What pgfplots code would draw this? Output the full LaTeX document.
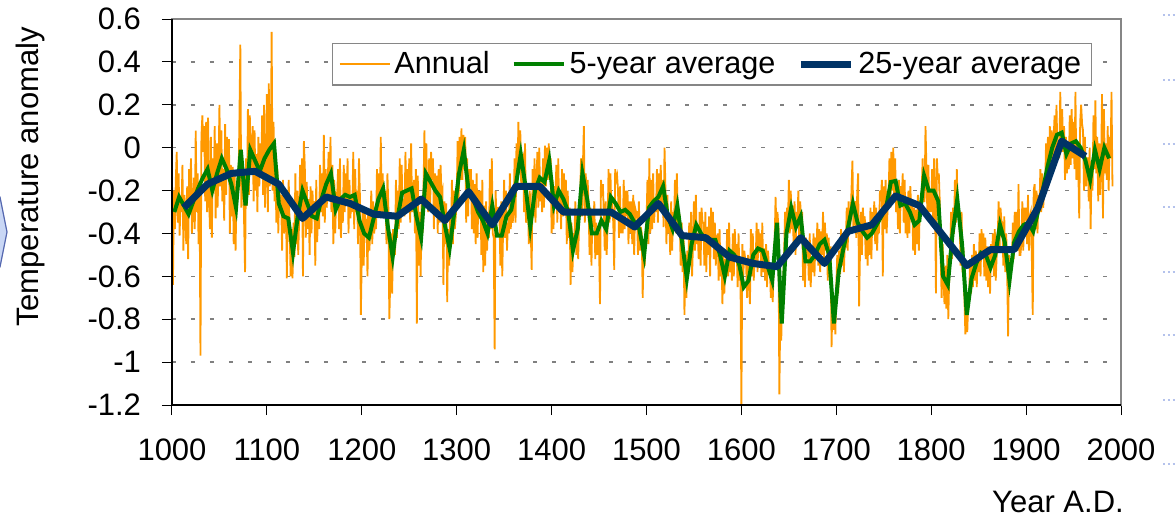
\documentclass[border=0pt]{standalone}
\usepackage{pgfplots}
\pgfplotsset{compat=1.18}
\usepackage{fontspec}
\setmainfont{Liberation Sans}

\definecolor{annualorange}{HTML}{FF9900}
\definecolor{fivegreen}{HTML}{008000}
\definecolor{navyline}{HTML}{003366}
\definecolor{framegray}{HTML}{868686}
\definecolor{gridgray}{HTML}{808080}
\definecolor{slideblue}{HTML}{C9D7F5}
\definecolor{slideedge}{HTML}{5568B0}
\definecolor{slidedot}{HTML}{B4C2EC}

\begin{document}
\begin{tikzpicture}
\useasboundingbox (-86bp,-55.5bp) rectangle (501.5bp,202.5bp);
\begin{axis}[
  width=474.5bp, height=193bp, scale only axis,
  xmin=1000, xmax=2000, ymin=-1.2, ymax=0.6,
  clip mode=individual,
  xtick={1000,1100,1200,1300,1400,1500,1600,1700,1800,1900,2000},
  xticklabels={1000,1100,1200,1300,1400,1500,1600,1700,1800,1900,2000},
  ytick={-1.2,-1,-0.8,-0.6,-0.4,-0.2,0,0.2,0.4,0.6},
  yticklabels={-1.2,-1,-0.8,-0.6,-0.4,-0.2,0,0.2,0.4,0.6},
  xtick pos=bottom, ytick pos=left,
  tick align=outside, major tick length=5bp,
  tick style={black, line width=0.5bp},
  ticklabel style={font=\fontsize{15.5bp}{18bp}\selectfont},
  xticklabel style={yshift=-8.5bp},
  yticklabel style={xshift=-7bp},
  ymajorgrids,
  major grid style={gridgray, line width=0.75bp, dash pattern=on 2.2bp off 7.3bp},
  axis line style={framegray, line width=0.8bp},
  xlabel={Year A.D.},
  ylabel={Temperature anomaly},
  every axis x label/.style={at={(axis description cs:0.9336,-0.2513)}, anchor=center, font=\fontsize{15.5bp}{18bp}\selectfont},
  every axis y label/.style={at={(axis description cs:-0.1496,0.5907)}, anchor=center, rotate=90, font=\fontsize{15.5bp}{18bp}\selectfont},
  legend columns=3,
  legend style={at={(0.9694,0.9378)}, anchor=north east, draw=framegray, line width=0.7bp, fill=white,
    font=\fontsize{15.3bp}{18bp}\selectfont, inner xsep=3bp, inner ysep=2bp,
    /tikz/every even column/.append style={column sep=9bp}},
  legend image code/.code={\draw[#1] (0bp,0bp) -- (25bp,0bp);},
]
% annual values
\addplot[annualorange, line width=0.9bp] coordinates {
(1000,-0.13)(1001,-0.64)(1002,-0.20)(1003,-0.38)(1004,-0.15)(1005,-0.02)(1006,-0.35)(1007,-0.12)(1008,-0.41)(1009,-0.25)
(1010,-0.30)(1011,-0.08)(1012,-0.48)(1013,-0.22)(1014,-0.27)(1015,-0.45)(1016,-0.18)(1017,-0.52)(1018,-0.10)(1019,-0.30)
(1020,-0.05)(1021,-0.40)(1022,-0.28)(1023,-0.14)(1024,-0.38)(1025,0.08)(1026,-0.30)(1027,-0.12)(1028,-0.45)(1029,-0.16)
(1030,-0.97)(1031,0.05)(1032,0.15)(1033,-0.02)(1034,0.10)(1035,-0.25)(1036,0.12)(1037,-0.30)(1038,0.14)(1039,-0.21)
(1040,-0.38)(1041,0.05)(1042,-0.42)(1043,-0.05)(1044,-0.20)(1045,0.10)(1046,-0.33)(1047,0.02)(1048,-0.28)(1049,-0.11)
(1050,0.20)(1051,-0.18)(1052,0.08)(1053,-0.25)(1054,-0.10)(1055,-0.34)(1056,0.11)(1057,-0.22)(1058,0.05)(1059,-0.10)
(1060,0.04)(1061,-0.40)(1062,-0.08)(1063,-0.32)(1064,-0.09)(1065,-0.45)(1066,-0.12)(1067,-0.48)(1068,-0.20)(1069,-0.15)
(1070,-0.20)(1071,0.12)(1072,0.48)(1073,-0.28)(1074,-0.17)(1075,-0.10)(1076,-0.35)(1077,-0.58)(1078,-0.05)(1079,-0.27)
(1080,0.18)(1081,-0.22)(1082,0.15)(1083,-0.12)(1084,-0.04)(1085,0.10)(1086,-0.25)(1087,0.08)(1088,-0.20)(1089,-0.03)
(1090,-0.30)(1091,0.05)(1092,-0.18)(1093,0.02)(1094,-0.14)(1095,0.15)(1096,-0.22)(1097,0.20)(1098,-0.28)(1099,-0.10)
(1100,0.25)(1101,-0.30)(1102,0.30)(1103,-0.18)(1104,-0.12)(1105,0.54)(1106,-0.20)(1107,0.12)(1108,-0.25)(1109,-0.11)
(1110,-0.35)(1111,-0.10)(1112,-0.40)(1113,-0.18)(1114,-0.27)(1115,-0.22)(1116,-0.48)(1117,-0.15)(1118,-0.40)(1119,-0.35)
(1120,-0.20)(1121,-0.61)(1122,-0.30)(1123,-0.15)(1124,-0.39)(1125,-0.60)(1126,-0.38)(1127,-0.61)(1128,-0.35)(1129,-0.51)
(1130,-0.12)(1131,-0.45)(1132,-0.20)(1133,-0.50)(1134,-0.33)(1135,-0.08)(1136,-0.30)(1137,-0.05)(1138,-0.60)(1139,0.03)
(1140,-0.10)(1141,-0.42)(1142,-0.16)(1143,-0.38)(1144,-0.24)(1145,-0.50)(1146,-0.18)(1147,-0.40)(1148,-0.20)(1149,-0.32)
(1150,-0.25)(1151,-0.55)(1152,-0.15)(1153,-0.44)(1154,-0.26)(1155,-0.38)(1156,-0.08)(1157,-0.30)(1158,-0.12)(1159,-0.32)
(1160,0.06)(1161,-0.35)(1162,-0.10)(1163,-0.28)(1164,-0.18)(1165,-0.02)(1166,-0.25)(1167,0.05)(1168,-0.30)(1169,-0.08)
(1170,-0.45)(1171,-0.15)(1172,-0.40)(1173,-0.22)(1174,-0.23)(1175,-0.10)(1176,-0.38)(1177,-0.05)(1178,-0.42)(1179,-0.25)
(1180,-0.35)(1181,-0.08)(1182,-0.30)(1183,-0.12)(1184,-0.25)(1185,-0.05)(1186,-0.40)(1187,-0.15)(1188,-0.33)(1189,-0.22)
(1190,-0.30)(1191,-0.02)(1192,-0.38)(1193,-0.10)(1194,-0.30)(1195,-0.20)(1196,-0.45)(1197,-0.05)(1198,-0.22)(1199,-0.78)
(1200,-0.50)(1201,-0.28)(1202,-0.55)(1203,-0.30)(1204,-0.37)(1205,-0.35)(1206,-0.60)(1207,-0.30)(1208,-0.48)(1209,-0.37)
(1210,-0.20)(1211,-0.45)(1212,-0.25)(1213,-0.40)(1214,-0.35)(1215,-0.38)(1216,-0.10)(1217,-0.30)(1218,-0.12)(1219,-0.30)
(1220,0.05)(1221,-0.32)(1222,-0.12)(1223,-0.30)(1224,-0.26)(1225,-0.20)(1226,-0.45)(1227,-0.12)(1228,-0.28)(1229,-0.80)
(1230,-0.62)(1231,-0.40)(1232,-0.68)(1233,-0.38)(1234,-0.47)(1235,-0.50)(1236,-0.15)(1237,-0.42)(1238,-0.20)(1239,-0.38)
(1240,-0.05)(1241,-0.35)(1242,-0.08)(1243,-0.30)(1244,-0.27)(1245,-0.32)(1246,-0.02)(1247,-0.28)(1248,-0.10)(1249,-0.28)
(1250,-0.05)(1251,-0.35)(1252,0.02)(1253,-0.30)(1254,-0.27)(1255,-0.15)(1256,-0.40)(1257,-0.10)(1258,-0.82)(1259,-0.13)
(1260,-0.55)(1261,-0.30)(1262,-0.60)(1263,-0.25)(1264,-0.40)(1265,-0.20)(1266,0.08)(1267,-0.25)(1268,0.02)(1269,-0.25)
(1270,-0.30)(1271,-0.05)(1272,-0.28)(1273,-0.02)(1274,-0.15)(1275,-0.05)(1276,-0.38)(1277,-0.12)(1278,-0.32)(1279,-0.13)
(1280,-0.40)(1281,-0.10)(1282,-0.35)(1283,-0.08)(1284,-0.22)(1285,-0.20)(1286,-0.64)(1287,-0.25)(1288,-0.45)(1289,-0.26)
(1290,-0.72)(1291,-0.38)(1292,-0.55)(1293,-0.30)(1294,-0.40)(1295,-0.15)(1296,-0.45)(1297,-0.20)(1298,-0.38)(1299,-0.32)
(1300,-0.25)(1301,0.03)(1302,-0.28)(1303,0.05)(1304,-0.15)(1305,0.09)(1306,-0.15)(1307,0.06)(1308,-0.10)(1309,0.05)
(1310,-0.35)(1311,-0.05)(1312,-0.32)(1313,-0.10)(1314,-0.18)(1315,-0.10)(1316,-0.38)(1317,-0.15)(1318,-0.40)(1319,-0.17)
(1320,-0.45)(1321,-0.12)(1322,-0.42)(1323,-0.20)(1324,-0.31)(1325,-0.20)(1326,-0.50)(1327,-0.15)(1328,-0.58)(1329,-0.27)
(1330,-0.55)(1331,-0.25)(1332,-0.48)(1333,-0.30)(1334,-0.42)(1335,-0.10)(1336,-0.38)(1337,-0.05)(1338,-0.40)(1339,-0.42)
(1340,-0.94)(1341,-0.20)(1342,-0.35)(1343,-0.28)(1344,-0.28)(1345,-0.30)(1346,-0.55)(1347,-0.25)(1348,-0.60)(1349,-0.35)
(1350,-0.15)(1351,-0.42)(1352,-0.20)(1353,-0.48)(1354,-0.35)(1355,-0.40)(1356,-0.12)(1357,-0.38)(1358,-0.20)(1359,-0.35)
(1360,-0.30)(1361,-0.05)(1362,-0.35)(1363,0.02)(1364,-0.17)(1365,0.12)(1366,-0.10)(1367,0.08)(1368,-0.18)(1369,-0.07)
(1370,-0.05)(1371,-0.30)(1372,0.02)(1373,-0.35)(1374,-0.22)(1375,-0.25)(1376,-0.45)(1377,-0.20)(1378,-0.38)(1379,-0.57)
(1380,-0.10)(1381,-0.32)(1382,-0.05)(1383,-0.35)(1384,-0.18)(1385,-0.02)(1386,-0.28)(1387,0.00)(1388,-0.25)(1389,-0.15)
(1390,-0.30)(1391,-0.05)(1392,-0.28)(1393,0.01)(1394,-0.18)(1395,0.00)(1396,-0.15)(1397,0.02)(1398,-0.12)(1399,-0.05)
(1400,-0.40)(1401,-0.15)(1402,-0.38)(1403,-0.18)(1404,-0.24)(1405,-0.08)(1406,-0.35)(1407,-0.05)(1408,-0.30)(1409,-0.22)
(1410,-0.38)(1411,-0.10)(1412,-0.32)(1413,-0.12)(1414,-0.28)(1415,-0.15)(1416,-0.45)(1417,-0.20)(1418,-0.42)(1419,-0.28)
(1420,-0.64)(1421,-0.35)(1422,-0.58)(1423,-0.40)(1424,-0.43)(1425,-0.25)(1426,-0.50)(1427,-0.30)(1428,-0.52)(1429,-0.33)
(1430,-0.25)(1431,-0.05)(1432,-0.32)(1433,-0.08)(1434,0.10)(1435,-0.35)(1436,-0.12)(1437,-0.30)(1438,-0.15)(1439,-0.28)
(1440,-0.50)(1441,-0.28)(1442,-0.55)(1443,-0.30)(1444,-0.37)(1445,-0.25)(1446,-0.52)(1447,-0.35)(1448,-0.50)(1449,-0.38)
(1450,-0.45)(1451,-0.73)(1452,-0.15)(1453,-0.20)(1454,-0.17)(1455,-0.30)(1456,-0.48)(1457,-0.25)(1458,-0.50)(1459,-0.37)
(1460,-0.10)(1461,-0.35)(1462,-0.12)(1463,-0.30)(1464,-0.28)(1465,-0.35)(1466,-0.57)(1467,-0.10)(1468,-0.15)(1469,-0.13)
(1470,-0.20)(1471,-0.42)(1472,-0.18)(1473,-0.40)(1474,-0.30)(1475,-0.40)(1476,-0.15)(1477,-0.38)(1478,-0.20)(1479,-0.32)
(1480,-0.20)(1481,-0.45)(1482,-0.25)(1483,-0.40)(1484,-0.25)(1485,-0.45)(1486,-0.22)(1487,-0.50)(1488,-0.28)(1489,-0.30)
(1490,-0.30)(1491,-0.50)(1492,-0.25)(1493,-0.48)(1494,-0.37)(1495,-0.40)(1496,-0.70)(1497,-0.45)(1498,-0.55)(1499,-0.40)
(1500,-0.35)(1501,-0.15)(1502,-0.45)(1503,-0.05)(1504,-0.40)(1505,-0.15)(1506,-0.38)(1507,-0.12)(1508,-0.35)(1509,-0.25)
(1510,-0.30)(1511,-0.10)(1512,-0.35)(1513,-0.12)(1514,-0.28)(1515,-0.08)(1516,-0.30)(1517,-0.15)(1518,-0.37)(1519,0.00)
(1520,-0.20)(1521,-0.45)(1522,-0.22)(1523,-0.40)(1524,-0.33)(1525,-0.50)(1526,-0.25)(1527,-0.48)(1528,-0.30)(1529,-0.37)
(1530,-0.15)(1531,-0.40)(1532,-0.12)(1533,-0.38)(1534,-0.30)(1535,-0.32)(1536,-0.55)(1537,-0.35)(1538,-0.58)(1539,-0.40)
(1540,-0.78)(1541,-0.50)(1542,-0.70)(1543,-0.48)(1544,-0.59)(1545,-0.35)(1546,-0.55)(1547,-0.30)(1548,-0.60)(1549,-0.45)
(1550,-0.25)(1551,-0.48)(1552,-0.22)(1553,-0.45)(1554,-0.40)(1555,-0.52)(1556,-0.30)(1557,-0.55)(1558,-0.28)(1559,-0.35)
(1560,-0.35)(1561,-0.55)(1562,-0.30)(1563,-0.58)(1564,-0.37)(1565,-0.50)(1566,-0.32)(1567,-0.60)(1568,-0.28)(1569,-0.45)
(1570,-0.30)(1571,-0.52)(1572,-0.35)(1573,-0.55)(1574,-0.43)(1575,-0.40)(1576,-0.62)(1577,-0.38)(1578,-0.60)(1579,-0.50)
(1580,-0.73)(1581,-0.50)(1582,-0.68)(1583,-0.52)(1584,-0.57)(1585,-0.38)(1586,-0.60)(1587,-0.35)(1588,-0.58)(1589,-0.49)
(1590,-0.62)(1591,-0.40)(1592,-0.60)(1593,-0.38)(1594,-0.50)(1595,-0.45)(1596,-0.65)(1597,-0.40)(1598,-0.62)(1599,-0.58)
(1600,-1.20)(1601,-0.45)(1602,-0.60)(1603,-0.48)(1604,-0.52)(1605,-0.55)(1606,-0.70)(1607,-0.50)(1608,-0.62)(1609,-0.73)
(1610,-0.38)(1611,-0.60)(1612,-0.40)(1613,-0.62)(1614,-0.50)(1615,-0.55)(1616,-0.35)(1617,-0.58)(1618,-0.38)(1619,-0.49)
(1620,-0.40)(1621,-0.60)(1622,-0.35)(1623,-0.58)(1624,-0.47)(1625,-0.62)(1626,-0.45)(1627,-0.65)(1628,-0.48)(1629,-0.55)
(1630,-0.55)(1631,-0.70)(1632,-0.58)(1633,-0.72)(1634,-0.55)(1635,-0.45)(1636,-0.23)(1637,-0.40)(1638,-0.30)(1639,-0.37)
(1640,-1.15)(1641,-0.75)(1642,-0.90)(1643,-0.65)(1644,-0.65)(1645,-0.50)(1646,-0.30)(1647,-0.55)(1648,-0.28)(1649,-0.37)
(1650,-0.15)(1651,-0.40)(1652,-0.20)(1653,-0.38)(1654,-0.27)(1655,-0.45)(1656,-0.25)(1657,-0.50)(1658,-0.30)(1659,-0.35)
(1660,-0.20)(1661,-0.45)(1662,-0.25)(1663,-0.40)(1664,-0.30)(1665,-0.62)(1666,-0.45)(1667,-0.65)(1668,-0.42)(1669,-0.51)
(1670,-0.45)(1671,-0.62)(1672,-0.40)(1673,-0.65)(1674,-0.53)(1675,-0.58)(1676,-0.40)(1677,-0.60)(1678,-0.42)(1679,-0.50)
(1680,-0.35)(1681,-0.55)(1682,-0.38)(1683,-0.58)(1684,-0.39)(1685,-0.50)(1686,-0.30)(1687,-0.52)(1688,-0.35)(1689,-0.48)
(1690,-0.40)(1691,-0.62)(1692,-0.42)(1693,-0.60)(1694,-0.46)(1695,-0.93)(1696,-0.70)(1697,-0.85)(1698,-0.75)(1699,-0.87)
(1700,-0.65)(1701,-0.50)(1702,-0.68)(1703,-0.48)(1704,-0.59)(1705,-0.38)(1706,-0.55)(1707,-0.40)(1708,-0.58)(1709,-0.44)
(1710,-0.45)(1711,-0.28)(1712,-0.48)(1713,-0.25)(1714,-0.39)(1715,-0.35)(1716,-0.20)(1717,-0.06)(1718,-0.38)(1719,-0.31)
(1720,-0.25)(1721,-0.42)(1722,-0.22)(1723,-0.12)(1724,-0.74)(1725,-0.48)(1726,-0.30)(1727,-0.50)(1728,-0.28)(1729,-0.39)
(1730,-0.32)(1731,-0.52)(1732,-0.35)(1733,-0.55)(1734,-0.36)(1735,-0.50)(1736,-0.28)(1737,-0.52)(1738,-0.30)(1739,-0.40)
(1740,-0.25)(1741,-0.45)(1742,-0.28)(1743,-0.48)(1744,-0.34)(1745,-0.40)(1746,-0.20)(1747,-0.25)(1748,-0.15)(1749,-0.60)
(1750,-0.18)(1751,-0.38)(1752,-0.15)(1753,-0.40)(1754,-0.29)(1755,-0.25)(1756,-0.05)(1757,-0.28)(1758,-0.02)(1759,-0.20)
(1760,0.00)(1761,-0.25)(1762,-0.05)(1763,-0.30)(1764,-0.18)(1765,-0.38)(1766,-0.15)(1767,-0.40)(1768,-0.18)(1769,-0.24)
(1770,-0.12)(1771,-0.35)(1772,-0.15)(1773,-0.40)(1774,-0.28)(1775,-0.42)(1776,-0.20)(1777,-0.40)(1778,-0.18)(1779,-0.30)
(1780,-0.25)(1781,-0.48)(1782,-0.28)(1783,-0.50)(1784,-0.29)(1785,-0.45)(1786,-0.22)(1787,-0.48)(1788,-0.25)(1789,-0.30)
(1790,-0.20)(1791,-0.05)(1792,-0.25)(1793,-0.25)(1794,0.10)(1795,-0.10)(1796,-0.32)(1797,-0.08)(1798,-0.30)(1799,-0.20)
(1800,-0.30)(1801,-0.10)(1802,-0.35)(1803,-0.05)(1804,-0.20)(1805,-0.68)(1806,-0.05)(1807,-0.15)(1808,-0.12)(1809,-0.25)
(1810,-0.50)(1811,-0.70)(1812,-0.45)(1813,-0.62)(1814,-0.73)(1815,-0.55)(1816,-0.75)(1817,-0.50)(1818,-0.80)(1819,-0.60)
(1820,-0.50)(1821,-0.30)(1822,-0.52)(1823,-0.28)(1824,-0.40)(1825,-0.15)(1826,-0.35)(1827,-0.10)(1828,-0.32)(1829,-0.28)
(1830,-0.35)(1831,-0.55)(1832,-0.30)(1833,-0.58)(1834,-0.47)(1835,-0.70)(1836,-0.87)(1837,-0.75)(1838,-0.86)(1839,-0.72)
(1840,-0.70)(1841,-0.52)(1842,-0.68)(1843,-0.50)(1844,-0.65)(1845,-0.45)(1846,-0.62)(1847,-0.48)(1848,-0.65)(1849,-0.50)
(1850,-0.58)(1851,-0.40)(1852,-0.60)(1853,-0.38)(1854,-0.49)(1855,-0.40)(1856,-0.60)(1857,-0.42)(1858,-0.62)(1859,-0.46)
(1860,-0.65)(1861,-0.48)(1862,-0.68)(1863,-0.45)(1864,-0.54)(1865,-0.40)(1866,-0.60)(1867,-0.38)(1868,-0.62)(1869,-0.50)
(1870,-0.45)(1871,-0.25)(1872,-0.48)(1873,-0.28)(1874,-0.34)(1875,-0.35)(1876,-0.55)(1877,-0.32)(1878,-0.58)(1879,-0.40)
(1880,-0.55)(1881,-0.88)(1882,-0.50)(1883,-0.65)(1884,-0.52)(1885,-0.55)(1886,-0.35)(1887,-0.52)(1888,-0.30)(1889,-0.48)
(1890,-0.30)(1891,-0.48)(1892,-0.17)(1893,-0.50)(1894,-0.50)(1895,-0.45)(1896,-0.25)(1897,-0.48)(1898,-0.28)(1899,-0.34)
(1900,-0.28)(1901,-0.45)(1902,-0.22)(1903,-0.48)(1904,-0.32)(1905,-0.30)(1906,-0.50)(1907,-0.78)(1908,-0.20)(1909,-0.17)
(1910,-0.38)(1911,-0.20)(1912,-0.40)(1913,-0.22)(1914,-0.30)(1915,-0.10)(1916,-0.30)(1917,-0.12)(1918,-0.28)(1919,-0.20)
(1920,-0.20)(1921,0.02)(1922,-0.15)(1923,0.05)(1924,-0.17)(1925,0.10)(1926,-0.12)(1927,0.08)(1928,-0.10)(1929,0.04)
(1930,0.15)(1931,-0.05)(1932,0.20)(1933,-0.02)(1934,0.02)(1935,-0.05)(1936,0.26)(1937,-0.02)(1938,0.18)(1939,-0.02)
(1940,0.10)(1941,-0.15)(1942,0.05)(1943,-0.12)(1944,-0.03)(1945,-0.10)(1946,0.15)(1947,-0.08)(1948,0.18)(1949,-0.05)
(1950,0.12)(1951,-0.10)(1952,0.26)(1953,-0.15)(1954,0.02)(1955,-0.10)(1956,-0.33)(1957,0.12)(1958,0.20)(1959,0.11)
(1960,0.08)(1961,-0.20)(1962,0.05)(1963,-0.18)(1964,-0.05)(1965,-0.05)(1966,-0.25)(1967,0.00)(1968,-0.38)(1969,-0.07)
(1970,-0.20)(1971,0.15)(1972,-0.10)(1973,0.22)(1974,-0.12)(1975,0.05)(1976,-0.25)(1977,0.02)(1978,-0.22)(1979,-0.10)
(1980,0.25)(1981,-0.33)(1982,0.18)(1983,-0.12)(1984,0.02)(1985,-0.15)(1986,0.10)(1987,-0.20)(1988,0.05)(1989,-0.05)
(1990,0.26)(1991,-0.18)
};
\addlegendentry{Annual}
% 5-year means
\addplot[fivegreen, line width=2bp] coordinates {
(1002.5,-0.30)(1007.5,-0.23)(1012.5,-0.27)(1017.5,-0.31)(1022.5,-0.25)(1027.5,-0.19)(1032.5,-0.14)(1037.5,-0.10)
(1042.5,-0.20)(1047.5,-0.12)(1052.5,-0.05)(1057.5,-0.10)(1062.5,-0.17)(1067.5,-0.28)(1072.5,-0.01)(1077.5,-0.27)
(1082.5,-0.01)(1087.5,-0.06)(1092.5,-0.11)(1097.5,-0.05)(1102.5,-0.01)(1107.5,0.02)(1112.5,-0.26)(1117.5,-0.32)
(1122.5,-0.33)(1127.5,-0.49)(1132.5,-0.32)(1137.5,-0.20)(1142.5,-0.26)(1147.5,-0.32)(1152.5,-0.33)(1157.5,-0.24)
(1162.5,-0.17)(1167.5,-0.12)(1172.5,-0.29)(1177.5,-0.24)(1182.5,-0.22)(1187.5,-0.23)(1192.5,-0.22)(1197.5,-0.34)
(1202.5,-0.40)(1207.5,-0.42)(1212.5,-0.33)(1217.5,-0.24)(1222.5,-0.19)(1227.5,-0.37)(1232.5,-0.51)(1237.5,-0.33)
(1242.5,-0.21)(1247.5,-0.20)(1252.5,-0.19)(1257.5,-0.32)(1262.5,-0.42)(1267.5,-0.12)(1272.5,-0.16)(1277.5,-0.20)
(1282.5,-0.23)(1287.5,-0.36)(1292.5,-0.47)(1297.5,-0.30)(1302.5,-0.12)(1307.5,-0.01)(1312.5,-0.20)(1317.5,-0.24)
(1322.5,-0.30)(1327.5,-0.34)(1332.5,-0.40)(1337.5,-0.27)(1342.5,-0.41)(1347.5,-0.41)(1352.5,-0.32)(1357.5,-0.29)
(1362.5,-0.17)(1367.5,-0.03)(1372.5,-0.18)(1377.5,-0.37)(1382.5,-0.20)(1387.5,-0.14)(1392.5,-0.16)(1397.5,-0.06)
(1402.5,-0.27)(1407.5,-0.20)(1412.5,-0.24)(1417.5,-0.30)(1422.5,-0.48)(1427.5,-0.38)(1432.5,-0.12)(1437.5,-0.24)
(1442.5,-0.40)(1447.5,-0.40)(1452.5,-0.34)(1457.5,-0.38)(1462.5,-0.23)(1467.5,-0.26)(1472.5,-0.30)(1477.5,-0.29)
(1482.5,-0.31)(1487.5,-0.35)(1492.5,-0.38)(1497.5,-0.50)(1502.5,-0.28)(1507.5,-0.25)(1512.5,-0.23)(1517.5,-0.18)
(1522.5,-0.32)(1527.5,-0.38)(1532.5,-0.27)(1537.5,-0.44)(1542.5,-0.61)(1547.5,-0.45)(1552.5,-0.36)(1557.5,-0.40)
(1562.5,-0.43)(1567.5,-0.43)(1572.5,-0.43)(1577.5,-0.50)(1582.5,-0.60)(1587.5,-0.48)(1592.5,-0.50)(1597.5,-0.54)
(1602.5,-0.65)(1607.5,-0.62)(1612.5,-0.50)(1617.5,-0.47)(1622.5,-0.48)(1627.5,-0.55)(1632.5,-0.62)(1637.5,-0.35)
(1642.5,-0.82)(1647.5,-0.40)(1652.5,-0.28)(1657.5,-0.37)(1662.5,-0.32)(1667.5,-0.53)(1672.5,-0.53)(1677.5,-0.50)
(1682.5,-0.45)(1687.5,-0.43)(1692.5,-0.50)(1697.5,-0.82)(1702.5,-0.58)(1707.5,-0.47)(1712.5,-0.37)(1717.5,-0.26)
(1722.5,-0.35)(1727.5,-0.39)(1732.5,-0.42)(1737.5,-0.40)(1742.5,-0.36)(1747.5,-0.32)(1752.5,-0.28)(1757.5,-0.16)
(1762.5,-0.155)(1767.5,-0.27)(1772.5,-0.26)(1777.5,-0.30)(1782.5,-0.36)(1787.5,-0.34)(1792.5,-0.13)(1797.5,-0.20)
(1802.5,-0.20)(1807.5,-0.25)(1812.5,-0.60)(1817.5,-0.64)(1822.5,-0.40)(1827.5,-0.24)(1832.5,-0.45)(1837.5,-0.78)
(1842.5,-0.61)(1847.5,-0.54)(1852.5,-0.49)(1857.5,-0.50)(1862.5,-0.56)(1867.5,-0.50)(1872.5,-0.36)(1877.5,-0.44)
(1882.5,-0.62)(1887.5,-0.44)(1892.5,-0.39)(1897.5,-0.36)(1902.5,-0.35)(1907.5,-0.39)(1912.5,-0.30)(1917.5,-0.20)
(1922.5,-0.09)(1927.5,0.00)(1932.5,0.06)(1937.5,0.07)(1942.5,-0.03)(1947.5,0.02)(1952.5,0.03)(1957.5,0.00)
(1962.5,-0.06)(1967.5,-0.15)(1972.5,-0.01)(1977.5,-0.10)(1982.5,0.00)(1987.5,-0.05)
};
\addlegendentry{5-year average}
% 25-year means
\addplot[navyline, line width=3.5bp, line join=round] coordinates {
(1012.5,-0.28)(1037.5,-0.17)(1062.5,-0.12)(1087.5,-0.11)(1112.5,-0.17)(1137.5,-0.33)(1162.5,-0.23)(1187.5,-0.26)
(1212.5,-0.31)(1237.5,-0.32)(1262.5,-0.24)(1287.5,-0.34)(1312.5,-0.205)(1337.5,-0.36)(1362.5,-0.18)(1387.5,-0.18)
(1412.5,-0.30)(1437.5,-0.30)(1462.5,-0.30)(1487.5,-0.37)(1512.5,-0.26)(1537.5,-0.41)(1562.5,-0.42)(1587.5,-0.51)
(1612.5,-0.54)(1637.5,-0.555)(1662.5,-0.42)(1687.5,-0.54)(1712.5,-0.39)(1737.5,-0.36)(1762.5,-0.225)(1787.5,-0.27)
(1812.5,-0.41)(1837.5,-0.55)(1862.5,-0.475)(1887.5,-0.475)(1912.5,-0.28)(1937.5,0.03)(1962.5,-0.04)
};
\addlegendentry{25-year average}
% plain black left and bottom axis lines
\draw[black, line width=0.6bp] (rel axis cs:0,1) -- (rel axis cs:0,0) -- (rel axis cs:1,0);
\end{axis}
% slide shape at the left edge
\filldraw[fill=slideblue, draw=slideedge, line width=0.6bp]
  (-92bp,107bp) -- (-86bp,104bp) -- (-82.5bp,86.5bp) -- (-86bp,69bp) -- (-92bp,66bp) -- cycle;
% dotted slide guides at the right edge
\foreach \yy in {195,162.5,130.5,99,66.5,35,2.5,-29.5}
  \draw[slidedot, line width=0.8bp, dash pattern=on 1.2bp off 1.2bp] (495.5bp,\yy bp) -- (501.5bp,\yy bp);
\end{tikzpicture}
\end{document}
